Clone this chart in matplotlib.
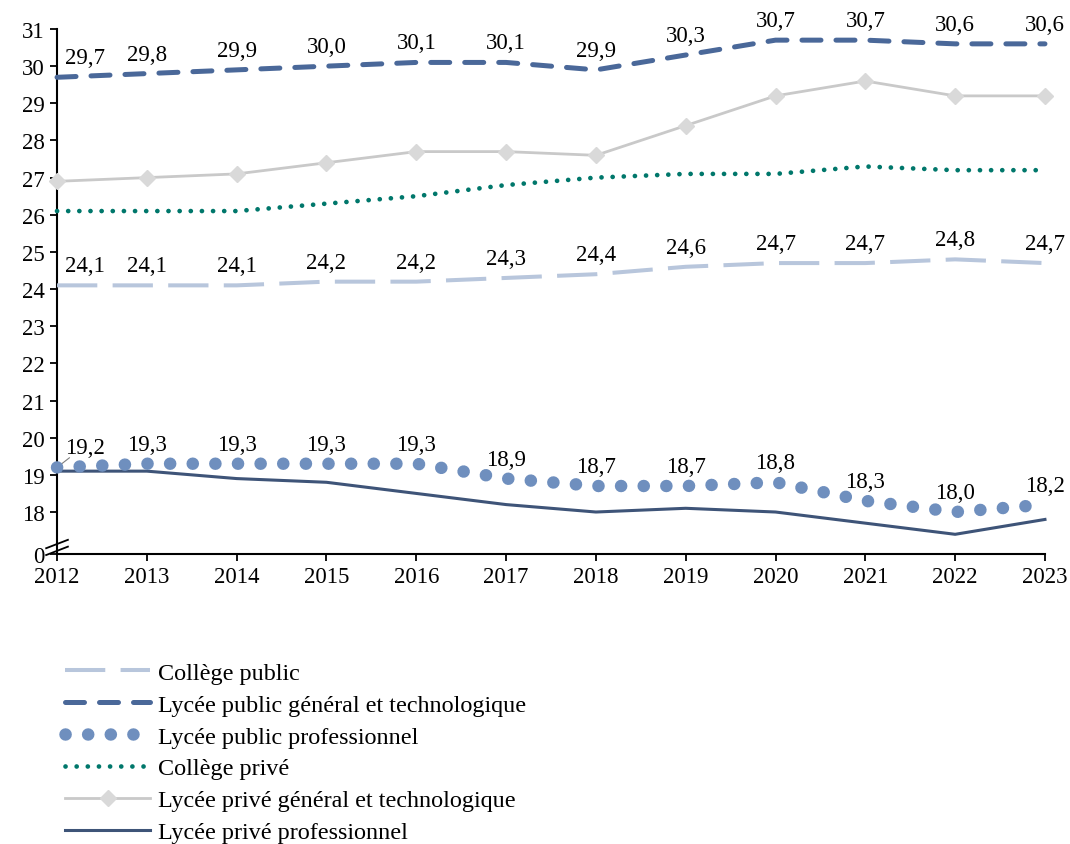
import matplotlib.pyplot as plt

plt.rcParams['font.family'] = ['Liberation Serif', 'DejaVu Serif']
plt.rcParams['font.size'] = 16

annees = list(range(2012, 2024))
college_public = [24.1, 24.1, 24.1, 24.2, 24.2, 24.3, 24.4, 24.6, 24.7, 24.7, 24.8, 24.7]
lycee_public_gt = [29.7, 29.8, 29.9, 30.0, 30.1, 30.1, 29.9, 30.3, 30.7, 30.7, 30.6, 30.6]
lycee_public_pro = [19.2, 19.3, 19.3, 19.3, 19.3, 18.9, 18.7, 18.7, 18.8, 18.3, 18.0, 18.2]
college_prive = [26.1, 26.1, 26.1, 26.3, 26.5, 26.8, 27.0, 27.1, 27.1, 27.3, 27.2, 27.2]
lycee_prive_gt = [26.9, 27.0, 27.1, 27.4, 27.7, 27.7, 27.6, 28.4, 29.2, 29.6, 29.2, 29.2]
lycee_prive_pro = [19.1, 19.1, 18.9, 18.8, 18.5, 18.2, 18.0, 18.1, 18.0, 17.7, 17.4, 17.8]

y_bas = 16.87
yticks = list(range(18, 32))

fig = plt.figure(figsize=(10.7, 8.45), dpi=100)
ax = fig.add_axes([0.0533, 0.3432, 0.9233, 0.6213])

ax.plot(annees, college_public, color='#B8C6DC', lw=2.9, linestyle=(0, (10, 3.8)),
        label='Collège public', clip_on=False, zorder=3)
ax.plot(annees, lycee_public_gt, color='#4A6899', lw=3.6, linestyle=(0, (3.8, 3.0)),
        dash_capstyle='round', label='Lycée public général et technologique', clip_on=False, zorder=3)
ax.plot(annees, lycee_public_pro, color='#6F8FBE', lw=9, linestyle=(0, (0.01, 1.8)),
        dash_capstyle='round', label='Lycée public professionnel', clip_on=False, zorder=4)
ax.plot(annees, college_prive, color='#00776B', lw=3.4, linestyle=(0, (0.01, 2.35)),
        dash_capstyle='round', label='Collège privé', clip_on=False, zorder=3)
ax.plot(annees, lycee_prive_gt, color='#C9C9C9', lw=2.0, marker='D', ms=8,
        markerfacecolor='#D9D9D9', markeredgecolor='#D9D9D9',
        label='Lycée privé général et technologique', clip_on=False, zorder=3)
ax.plot(annees, lycee_prive_pro, color='#3E5478', lw=2.2,
        label='Lycée privé professionnel', clip_on=False, zorder=3)

# étiquettes de valeurs
for serie in [lycee_public_gt, college_public, lycee_public_pro]:
    for i, (an, v) in enumerate(zip(annees, serie)):
        dx = 20 if i == 0 else 0
        ax.annotate(f"{v:.1f}".replace('.', ','), (an, v), xytext=(dx, 14),
                    textcoords='offset points', ha='center', va='center',
                    fontsize=16.5, zorder=6, annotation_clip=False)

# trait de rappel pour 19,2
ax.annotate('', (annees[0], lycee_public_pro[0]), xytext=(9, 7), textcoords='offset points',
            arrowprops=dict(arrowstyle='-', color='#7F7F7F', lw=0.8, shrinkA=0, shrinkB=2))

ax.set_xlim(2012, 2023)
ax.set_ylim(y_bas, 31)
ax.set_xticks(annees)
ax.set_yticks([y_bas] + yticks)
ax.set_yticklabels(['0'] + [str(t) for t in yticks])

for s in ['top', 'right']:
    ax.spines[s].set_visible(False)
for s in ['left', 'bottom']:
    ax.spines[s].set_linewidth(1.5)
ax.tick_params(axis='both', direction='out', length=5, width=1.3, labelsize=16.5, pad=4)

# marque de rupture de l'axe
for yc in [0.019, 0.006]:
    ax.plot([-0.011, 0.011], [yc - 0.008, yc + 0.008], transform=ax.transAxes,
            color='black', lw=1.3, clip_on=False, zorder=5)

fig.legend(loc='upper left', bbox_to_anchor=(0.061, 0.2154), frameon=False,
           borderpad=0, borderaxespad=0, handlelength=3.5, handletextpad=0.33,
           labelspacing=0.41, numpoints=1, fontsize=17.4)

fig.savefig('out.png', dpi=100)
